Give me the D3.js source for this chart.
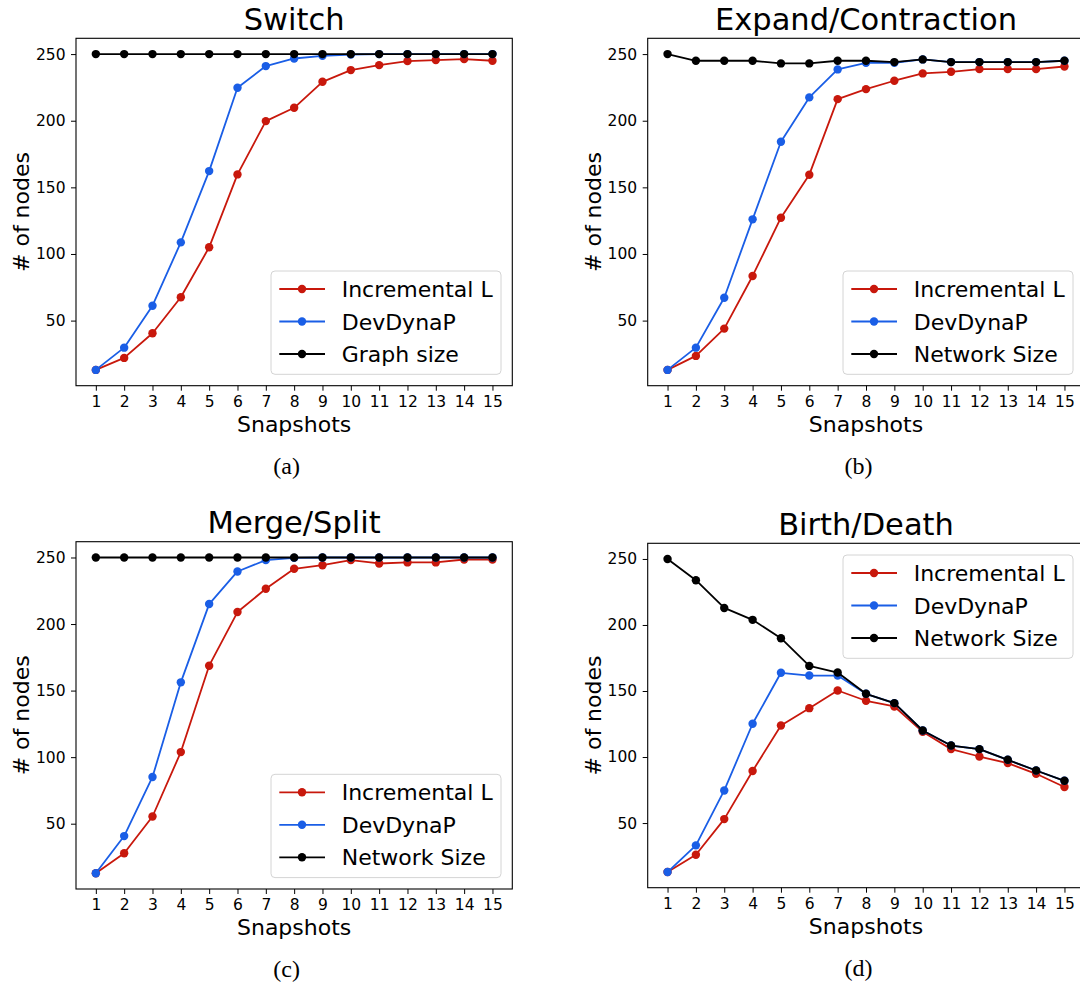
<!DOCTYPE html>
<html>
<head>
<meta charset="utf-8">
<script src="https://cdn.jsdelivr.net/npm/d3@7"></script>
<style>
  html, body { margin: 0; padding: 0; background: #fff; overflow: hidden; }
  svg { display: block; }
</style>
</head>
<body>
<svg id="fig" width="1080" height="987"></svg>
<script>
// ---------- DATA ----------
const snapshots = [1, 2, 3, 4, 5, 6, 7, 8, 9, 10, 11, 12, 13, 14, 15];
const yTicks = [50, 100, 150, 200, 250];

const switchIncL = [13, 22, 40.5, 67.5, 105, 159.7, 199.7, 209.7, 229.2, 238, 241.7, 244.7, 245.5, 246.2, 245];
const switchDev  = [13, 29.7, 61.2, 108.7, 162.2, 224.7, 241, 246.7, 248.7, 249.7, 250, 250, 250, 250, 250];
const switchSize = [250, 250, 250, 250, 250, 250, 250, 250, 250, 250, 250, 250, 250, 250, 250];

const expandIncL = [13, 23.5, 44, 83.5, 127.2, 159.5, 216.2, 223.7, 230, 235.5, 236.7, 238.7, 238.7, 238.7, 240.7];
const expandDev  = [13, 29.7, 67.2, 126, 184.2, 217.5, 238.5, 243.5, 243.5, 246, 244, 244, 244, 244, 245];
const expandSize = [250, 245, 245, 245, 243, 243, 245, 245, 244, 246, 244, 244, 244, 244, 245];

const mergeIncL = [12.8, 27.8, 55.4, 103.8, 168.7, 209, 226.5, 241.5, 244.2, 248, 245.5, 246.3, 246.3, 248.5, 248.5];
const mergeDev  = [12.8, 40.7, 85.1, 156.2, 215, 239.5, 248, 249.7, 250, 250, 250, 250, 250, 250, 250];
const mergeSize = [250, 250, 250, 250, 250, 250, 250, 250, 250, 250, 250, 250, 250, 250, 250];

const birthIncL = [12.9, 26, 53, 89.4, 123.9, 137, 150.4, 142.6, 138.3, 119.1, 106, 100.4, 95.4, 87.3, 77.3];
const birthDev  = [12.9, 33.1, 74.7, 125.2, 163.8, 161.7, 161.7, 147.9, 140.8, 120.1, 108.7, 106, 97.9, 89.8, 82];
const birthSize = [250, 233.9, 212.9, 203.9, 190, 169, 164, 147.9, 140.8, 120.1, 108.7, 106, 97.9, 89.8, 82];

const titles = ["Switch", "Expand/Contraction", "Merge/Split", "Birth/Death"];
const subcaptions = ["(a)", "(b)", "(c)", "(d)"];
const seriesNames = ["Incremental L", "DevDynaP", "Network Size"];
const seriesNamesSwitch = ["Incremental L", "DevDynaP", "Graph size"];
const xLabel = "Snapshots";
const yLabel = "# of nodes";

// ---------- STYLE / LAYOUT ----------
const colors = ["#c8180c", "#1a5ee6", "#000000"];
const font = "'DejaVu Sans', Verdana, sans-serif";

const panels = [
  { title: titles[0], sub: subcaptions[0], names: seriesNamesSwitch, data: [switchIncL, switchDev, switchSize],
    box: { left: 76, right: 512.3, top: 38.3, bottom: 385.7 }, legend: "lower" },
  { title: titles[1], sub: subcaptions[1], names: seriesNames, data: [expandIncL, expandDev, expandSize],
    box: { left: 647.7, right: 1084.3, top: 38.3, bottom: 385.7 }, legend: "lower" },
  { title: titles[2], sub: subcaptions[2], names: seriesNames, data: [mergeIncL, mergeDev, mergeSize],
    box: { left: 76, right: 512.3, top: 541.7, bottom: 889 }, legend: "lower" },
  { title: titles[3], sub: subcaptions[3], names: seriesNames, data: [birthIncL, birthDev, birthSize],
    box: { left: 647.7, right: 1084.3, top: 543.3, bottom: 887.7 }, legend: "upper" }
];

const svg = d3.select("#fig");

panels.forEach(p => {
  const b = p.box;
  const g = svg.append("g");
  const all = p.data.flat();
  const [mn, mx] = d3.extent(all);
  const pad = (mx - mn) * 0.05;
  const x = d3.scaleLinear().domain([1 - 0.7, 15 + 0.7]).range([b.left, b.right]);
  const y = d3.scaleLinear().domain([mn - pad, mx + pad]).range([b.bottom, b.top]);

  // axes
  const xAxis = d3.axisBottom(x).tickValues(snapshots).tickFormat(d3.format("d")).tickSize(5).tickPadding(5);
  const yAxis = d3.axisLeft(y).tickValues(yTicks).tickFormat(d3.format("d")).tickSize(5).tickPadding(5.5);

  const gx = g.append("g").attr("transform", `translate(0,${b.bottom})`).call(xAxis);
  const gy = g.append("g").attr("transform", `translate(${b.left},0)`).call(yAxis);
  [gx, gy].forEach(a => {
    a.select(".domain").remove();
    a.selectAll("line").attr("stroke", "#000").attr("stroke-width", 1);
    a.selectAll("text").attr("font-family", font).attr("font-size", 15.5).attr("fill", "#000");
  });

  // spines
  g.append("rect")
    .attr("x", b.left).attr("y", b.top)
    .attr("width", b.right - b.left).attr("height", b.bottom - b.top)
    .attr("fill", "none").attr("stroke", "#000").attr("stroke-width", 1.1);

  // series
  const line = d3.line().x((d, i) => x(snapshots[i])).y(d => y(d));
  p.data.forEach((series, si) => {
    g.append("path").datum(series)
      .attr("d", line)
      .attr("fill", "none")
      .attr("stroke", colors[si])
      .attr("stroke-width", 1.8)
      .attr("stroke-linejoin", "round");
    g.selectAll(null).data(series).enter().append("circle")
      .attr("cx", (d, i) => x(snapshots[i]))
      .attr("cy", d => y(d))
      .attr("r", 4.2)
      .attr("fill", colors[si]);
  });

  // title
  g.append("text")
    .attr("x", (b.left + b.right) / 2).attr("y", b.top - 8.3)
    .attr("text-anchor", "middle")
    .attr("font-family", font).attr("font-size", 30.5)
    .text(p.title);

  // x label
  g.append("text")
    .attr("x", (b.left + b.right) / 2).attr("y", b.bottom + 46)
    .attr("text-anchor", "middle")
    .attr("font-family", font).attr("font-size", 22)
    .text(xLabel);

  // y label
  g.append("text")
    .attr("transform", `translate(${b.left - 47},${(b.top + b.bottom) / 2}) rotate(-90)`)
    .attr("text-anchor", "middle")
    .attr("font-family", font).attr("font-size", 22)
    .text(yLabel);

  // subcaption
  g.append("text")
    .attr("x", (b.left + b.right) / 2 - 7.5).attr("y", b.bottom + 87.8)
    .attr("text-anchor", "middle")
    .attr("font-family", "'Liberation Serif', 'Times New Roman', serif").attr("font-size", 24)
    .text(p.sub);

  // legend
  const lw = 230, lh = 103.3;
  const lx = b.right - 11.3 - lw;
  const ly = p.legend === "lower" ? b.bottom - 11.4 - lh : b.top + 11.7;
  const lg = g.append("g").attr("transform", `translate(${lx},${ly})`);
  lg.append("rect")
    .attr("x", 0).attr("y", 0).attr("width", lw).attr("height", lh)
    .attr("rx", 4).attr("ry", 4)
    .attr("fill", "#fff").attr("fill-opacity", 0.8)
    .attr("stroke", "#d4d4d4").attr("stroke-width", 1);
  p.names.forEach((name, i) => {
    const cy = 18 + i * 32.5;
    lg.append("line")
      .attr("x1", 8.3).attr("x2", 54).attr("y1", cy).attr("y2", cy)
      .attr("stroke", colors[i]).attr("stroke-width", 1.8);
    lg.append("circle").attr("cx", 31).attr("cy", cy).attr("r", 4.2).attr("fill", colors[i]);
    lg.append("text")
      .attr("x", 70.7).attr("y", cy + 8)
      .attr("font-family", font).attr("font-size", 22)
      .text(name);
  });
});
</script>
</body>
</html>
